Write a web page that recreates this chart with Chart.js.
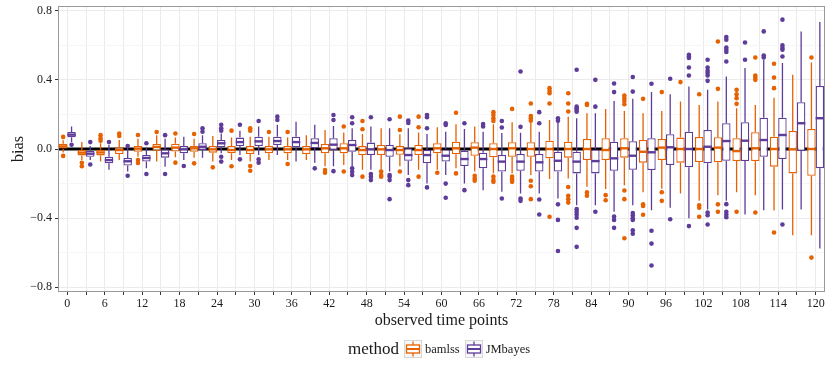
<!DOCTYPE html>
<html>
<head>
<meta charset="utf-8">
<script src="https://cdn.jsdelivr.net/npm/chart.js@4.4.1/dist/chart.umd.min.js"></script>
<style>
  body { margin: 0; background: #fff; }
  #wrap { position: relative; width: 830px; height: 378px; font-family: 'Liberation Serif', serif; }
  #legend { position: absolute; left: 58px; width: 767px; top: 340px; height: 18px; display: flex; justify-content: center; align-items: center; color: #1a1a1a; }
  #legend .title { font-size: 17px; margin-right: 5px; }
  #legend .lab { font-size: 12.5px; margin: 0 5px 0 3px; }
  #legend svg { display: block; }
</style>
</head>
<body>
<div id="wrap">
  <canvas id="chart"></canvas>
  <div id="legend"></div>
</div>
<script>
const timePoints = ['0','3','6','9','12','15','18','21','24','27','30','33','36','39','42','45','48','51','54','57',
  '60','63','66','69','72','75','78','81','84','87','90','93','96','99','102','105','108','111','114','117','120'];

// bamlss
const bamLo  = [-0.02,-0.064,-0.073,-0.064,-0.045,-0.073,-0.048,-0.05,-0.073,-0.064,
  -0.073,-0.064,-0.064,-0.064,-0.1,-0.093,-0.12,-0.12,-0.1,-0.12,
  -0.12,-0.112,-0.13,-0.14,-0.14,-0.151,-0.174,-0.17,-0.218,-0.232,
  -0.209,-0.25,-0.23,-0.257,-0.3,-0.267,-0.25,-0.267,-0.356,-0.499,-0.499];
const bamQ1  = [0.0,-0.037,-0.037,-0.029,-0.016,-0.01,-0.015,-0.016,-0.021,-0.025,
  -0.029,-0.025,-0.025,-0.029,-0.025,-0.025,-0.035,-0.035,-0.033,-0.035,
  -0.025,-0.031,-0.039,-0.048,-0.045,-0.045,-0.054,-0.05,-0.064,-0.064,
  -0.05,-0.079,-0.064,-0.079,-0.075,-0.077,-0.07,-0.07,-0.102,-0.141,-0.155];
const bamMed = [0.015,-0.021,-0.02,-0.006,0.002,0.012,0.008,0.004,-0.002,-0.006,
  -0.006,-0.002,-0.002,-0.002,0.004,0.004,-0.006,-0.002,-0.006,-0.006,
  0.004,0.004,0.008,0.0,0.004,0.0,0.0,0.0,0.0,-0.006,
  0.004,-0.016,0.008,0.0,0.0,0.008,-0.012,0.004,0.0,-0.002,0.0];
const bamQ3  = [0.03,-0.006,-0.004,0.01,0.017,0.029,0.03,0.017,0.017,0.017,
  0.017,0.017,0.017,0.017,0.029,0.033,0.017,0.023,0.017,0.023,
  0.033,0.042,0.039,0.033,0.039,0.039,0.048,0.042,0.058,0.062,
  0.062,0.052,0.058,0.066,0.07,0.068,0.062,0.097,0.071,0.104,0.116];
const bamHi  = [0.05,0.04,0.033,0.052,0.06,0.08,0.066,0.06,0.075,0.066,
  0.071,0.071,0.066,0.08,0.11,0.095,0.087,0.12,0.085,0.095,
  0.126,0.143,0.13,0.143,0.155,0.15,0.168,0.187,0.207,0.232,
  0.22,0.207,0.22,0.274,0.255,0.274,0.236,0.255,0.297,0.429,0.5];
const bamOut = [[0.07,-0.04],[-0.08,-0.1],[0.08,0.062,0.048],[0.09,0.075],[0.081,-0.064,-0.081],[0.098],[0.09,-0.079],[0.087,-0.083],[-0.106],[0.106,-0.1],
  [0.12,0.106,-0.098,-0.126],[0.098],[0.098,-0.087],[],[-0.122,-0.137],[0.13,-0.13],[0.162,0.114,-0.16],[-0.13,-0.15,-0.16],[0.187,0.11,-0.13],[0.187,0.126,-0.16],
  [-0.137],[0.21,-0.141],[-0.155,-0.17,-0.184],[0.213,0.197,0.178,0.162,-0.16,-0.18,-0.19],[0.232,-0.16,-0.175,-0.19],[0.263,0.191,0.178,0.164,-0.184,-0.215,-0.29],[0.352,0.336,0.322,0.263,-0.392],[0.322,0.263,0.217,-0.22,-0.27,-0.29,-0.31],[0.261,0.255,-0.251,-0.27],[-0.267,-0.296],
  [0.309,0.294,0.278,0.259,-0.24,-0.29,-0.516],[0.29,-0.32,-0.33,-0.38],[0.329,-0.25,-0.3],[0.387],[0.317,-0.325,-0.34,-0.392],[0.622,0.348,-0.32,-0.363],[0.342,0.317,0.294,0.261,-0.363],[0.529,0.425,0.413,0.4,-0.367],[0.493,0.413,0.352,-0.483],[],
  [0.529,-0.628]];

// JMbayes
const jmLo  = [0.04,-0.064,-0.12,-0.13,-0.112,-0.102,-0.064,-0.05,-0.025,-0.035,
  -0.035,-0.035,-0.073,-0.08,-0.1,-0.1,-0.12,-0.13,-0.15,-0.2,
  -0.151,-0.2,-0.238,-0.247,-0.257,-0.257,-0.286,-0.325,-0.325,-0.363,
  -0.325,-0.354,-0.34,-0.4,-0.35,-0.3,-0.379,-0.354,-0.35,-0.35,-0.576];
const jmQ1  = [0.068,-0.045,-0.083,-0.095,-0.073,-0.05,-0.025,-0.006,0.01,0.017,
  0.017,0.023,0.01,0.004,-0.006,-0.016,-0.035,-0.045,-0.068,-0.083,
  -0.073,-0.098,-0.112,-0.13,-0.126,-0.13,-0.13,-0.141,-0.141,-0.126,
  -0.12,-0.122,-0.093,-0.106,-0.083,-0.068,-0.07,-0.045,-0.058,-0.012,-0.112];
const jmMed = [0.083,-0.027,-0.064,-0.071,-0.052,-0.025,-0.002,0.013,0.033,0.04,
  0.044,0.046,0.04,0.035,0.025,0.023,-0.002,-0.006,-0.035,-0.035,
  -0.039,-0.058,-0.058,-0.073,-0.073,-0.077,-0.068,-0.073,-0.07,-0.054,
  -0.039,-0.019,0.01,0.0,0.013,0.046,0.048,0.052,0.081,0.149,0.178];
const jmQ3  = [0.098,-0.01,-0.045,-0.052,-0.035,-0.002,0.017,0.033,0.052,0.066,
  0.071,0.071,0.071,0.062,0.062,0.052,0.037,0.023,0.004,-0.006,
  0.0,-0.01,-0.021,-0.035,-0.029,-0.029,-0.016,-0.016,0.0,0.042,
  0.045,0.062,0.085,0.1,0.11,0.149,0.155,0.181,0.181,0.271,0.365];
const jmHi  = [0.13,0.017,0.023,0.01,0.01,0.06,0.071,0.08,0.09,0.106,
  0.13,0.14,0.158,0.14,0.133,0.12,0.13,0.12,0.12,0.087,
  0.1,0.116,0.1,0.092,0.094,0.1,0.155,0.178,0.207,0.278,
  0.29,0.329,0.317,0.361,0.342,0.42,0.468,0.516,0.497,0.68,0.734];
const jmOut = [[0.025],[0.04,-0.09],[0.04],[0.017,-0.155],[0.033,-0.145],[0.08,-0.145],[-0.098],[0.12,0.1],[0.14,0.12,0.106,-0.045,-0.073],[0.14,-0.06],
  [0.162,-0.06,-0.079],[0.187,0.168],[],[-0.112],[0.197,0.168,-0.128],[0.184,0.149,-0.112,-0.132,-0.151],[0.184,-0.145,-0.16,-0.18],[0.172,-0.15,-0.16,-0.18,-0.29],[0.165,0.15,-0.18,-0.209],[0.197,0.184,0.12,-0.222],
  [0.149,0.139,-0.2,-0.282],[0.149,-0.238],[0.145,0.13],[0.162,0.124,-0.286],[0.448,0.128,-0.286,-0.3],[0.213,0.149,-0.292,-0.379],[0.178,0.164,-0.32,-0.41,-0.59],[0.458,0.245,0.236,0.226,0.216,-0.348,-0.363,-0.379,-0.398,-0.456,-0.566],[0.4,0.245,-0.363],[0.379,0.329,-0.39,-0.41,-0.456],
  [0.416,0.332,-0.37,-0.385,-0.4,-0.41,-0.47,-0.49],[0.377,-0.473,-0.547,-0.674],[0.406,-0.406],[0.545,0.535,0.526,0.471,0.425,-0.446],[0.516,0.471,0.452,0.439,0.425,0.394,-0.367,-0.383,-0.437],[0.648,0.632,0.587,0.574,0.561,0.506,-0.319,-0.363,-0.379,-0.394],[0.616,0.516],[0.68,0.541,0.529],[0.748,0.599,0.584,0.574,0.535,-0.437],[],
  []];

const ORANGE = '#e66101';
const PURPLE = '#5e3c99';
const FONT = "'Liberation Serif', serif";

const series = [
  { label: 'bamlss', color: ORANGE, lo: bamLo, q1: bamQ1, med: bamMed, q3: bamQ3, hi: bamHi, out: bamOut },
  { label: 'JMbayes', color: PURPLE, lo: jmLo, q1: jmQ1, med: jmMed, q3: jmQ3, hi: jmHi, out: jmOut }
];

function isMajor(v) { return Math.round(v * 10) % 4 === 0; }
function fmtY(v) { const s = Math.abs(v).toFixed(1); return v < -1e-9 ? '\u2212' + s : s; }

// hline at 0 under the boxes, whiskers / medians / outliers on top, panel border last
const boxParts = {
  id: 'boxParts',
  beforeDatasetsDraw(chart) {
    const { ctx, chartArea: a, scales: { y } } = chart;
    const y0 = y.getPixelForValue(0);
    ctx.save();
    ctx.strokeStyle = '#000';
    ctx.lineWidth = 3;
    ctx.beginPath(); ctx.moveTo(a.left, y0); ctx.lineTo(a.right, y0); ctx.stroke();
    ctx.restore();
  },
  afterDatasetsDraw(chart) {
    const { ctx, chartArea: a, scales: { y } } = chart;
    ctx.save();
    series.forEach((s, di) => {
      const meta = chart.getDatasetMeta(di);
      meta.data.forEach((bar, i) => {
        const x = bar.x, hw = bar.width / 2;
        ctx.strokeStyle = s.color;
        ctx.lineWidth = 1.3;
        ctx.beginPath();
        ctx.moveTo(x, y.getPixelForValue(s.q3[i])); ctx.lineTo(x, y.getPixelForValue(s.hi[i]));
        ctx.moveTo(x, y.getPixelForValue(s.q1[i])); ctx.lineTo(x, y.getPixelForValue(s.lo[i]));
        ctx.stroke();
        ctx.lineWidth = 2.4;
        const ym = y.getPixelForValue(s.med[i]);
        ctx.beginPath(); ctx.moveTo(x - hw, ym); ctx.lineTo(x + hw, ym); ctx.stroke();
        ctx.fillStyle = s.color;
        s.out[i].forEach(v => {
          ctx.beginPath(); ctx.arc(x, y.getPixelForValue(v), 2.3, 0, Math.PI * 2); ctx.fill();
        });
      });
    });
    ctx.strokeStyle = '#999';
    ctx.lineWidth = 1;
    ctx.strokeRect(a.left + 0.5, a.top + 0.5, a.right - a.left - 1, a.bottom - a.top - 1);
    ctx.restore();
  }
};

new Chart(document.getElementById('chart'), {
  type: 'bar',
  data: {
    labels: timePoints,
    datasets: series.map(s => ({
      label: s.label,
      data: s.q1.map((v, i) => [v, s.q3[i]]),
      backgroundColor: '#ffffff',
      borderColor: s.color,
      borderWidth: 1.3,
      borderSkipped: false,
      categoryPercentage: 0.9,
      barPercentage: 1
    }))
  },
  options: {
    responsive: true, maintainAspectRatio: false, animation: false,
    layout: { padding: { left: 0, right: 5, top: 6, bottom: 38 } },
    plugins: { legend: { display: false }, tooltip: { enabled: false } },
    scales: {
      x: {
        offset: true,
        grid: { offset: false, color: '#ebebeb', drawTicks: true, tickLength: 3, tickColor: '#333' },
        border: { display: false },
        ticks: {
          autoSkip: false, maxRotation: 0, padding: 2, color: '#1a1a1a',
          font: { family: FONT, size: 12 },
          callback: (v, i) => i % 2 === 0 ? timePoints[i] : ''
        },
        title: { display: true, text: 'observed time points', color: '#1a1a1a', font: { family: FONT, size: 16 }, padding: { top: 0, bottom: 10 } },
        afterFit: s => { s.height = 48; s.paddingLeft = 0; s.paddingRight = 0; }
      },
      y: {
        min: -0.827, max: 0.827,
        grid: {
          color: c => isMajor(c.tick.value) ? '#ebebeb' : '#f6f6f6',
          tickColor: c => isMajor(c.tick.value) ? '#333' : 'rgba(0,0,0,0)',
          tickLength: 3
        },
        border: { display: false },
        ticks: {
          stepSize: 0.2, includeBounds: false, padding: 3, color: '#1a1a1a',
          font: { family: FONT, size: 12 },
          callback: v => isMajor(v) ? fmtY(v) : ''
        },
        title: { display: true, text: 'bias', color: '#1a1a1a', font: { family: FONT, size: 16 }, padding: { top: 9, bottom: 0 } },
        afterFit: s => { s.width = 58; s.paddingTop = 0; s.paddingBottom = 0; }
      }
    }
  },
  plugins: [boxParts]
});

// legend: ggplot-style boxplot keys
function keySvg(color) {
  return '<svg width="18" height="18" viewBox="0 0 18 18">' +
    '<rect x="0.5" y="0.5" width="17" height="17" fill="#f7f7f7" stroke="#d6d6d6"/>' +
    '<line x1="9" y1="1.5" x2="9" y2="16.5" stroke="' + color + '" stroke-width="1.3"/>' +
    '<rect x="2.5" y="5" width="13" height="8" fill="#fff" stroke="' + color + '" stroke-width="1.3"/>' +
    '<line x1="2.5" y1="9" x2="15.5" y2="9" stroke="' + color + '" stroke-width="2"/>' +
    '</svg>';
}
document.getElementById('legend').innerHTML =
  '<span class="title">method</span>' +
  series.map(s => keySvg(s.color) + '<span class="lab">' + s.label + '</span>').join('');
</script>
</body>
</html>
